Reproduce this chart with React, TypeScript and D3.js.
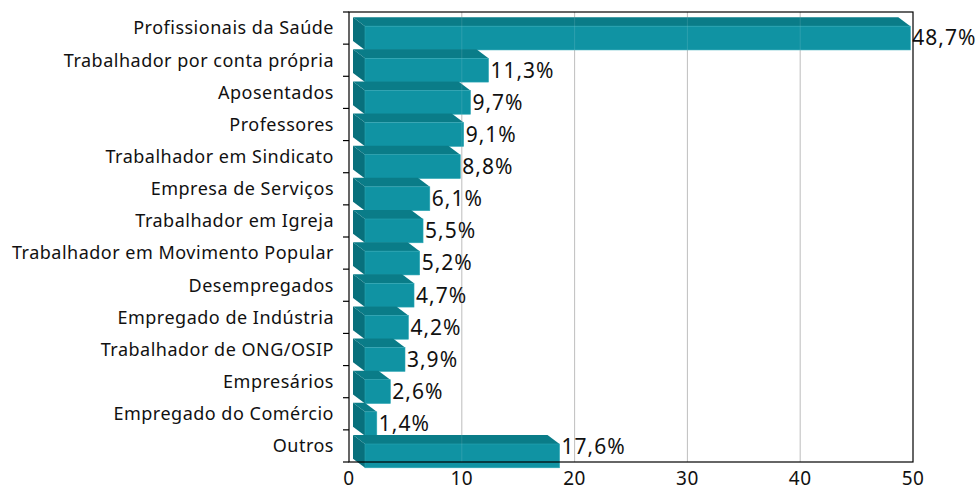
import React, { useRef, useEffect } from 'react';
import * as d3 from 'd3';

const categories = [
  'Profissionais da Saúde',
  'Trabalhador por conta própria',
  'Aposentados',
  'Professores',
  'Trabalhador em Sindicato',
  'Empresa de Serviços',
  'Trabalhador em Igreja',
  'Trabalhador em Movimento Popular',
  'Desempregados',
  'Empregado de Indústria',
  'Trabalhador de ONG/OSIP',
  'Empresários',
  'Empregado do Comércio',
  'Outros',
];
const values = [48.7, 11.3, 9.7, 9.1, 8.8, 6.1, 5.5, 5.2, 4.7, 4.2, 3.9, 2.6, 1.4, 17.6];
const xTicks = [0, 10, 20, 30, 40, 50];

const FRONT = '#1093a3';
const TOP = '#0a7c88';
const SIDE = '#08707c';
const FONT = '"Noto Sans", sans-serif';

const App = () => {
  const svgRef = useRef<SVGSVGElement>(null);

  useEffect(() => {
    const svg = d3.select(svgRef.current);
    svg.selectAll('*').remove();

    const margin = { top: 12, right: 65, bottom: 26, left: 349 };
    const W = 978, H = 488;
    const width = W - margin.left - margin.right;
    const height = H - margin.top - margin.bottom;

    const g = svg.append('g').attr('transform', `translate(${margin.left},${margin.top})`);

    const x = d3.scaleLinear().domain([0, 50]).range([0, width]);
    const y = d3.scaleBand().domain(categories).range([0, height]);
    const bw = y.bandwidth();

    // gridlines
    g.selectAll('line.grid')
      .data(xTicks.slice(1, -1))
      .enter().append('line')
      .attr('x1', d => x(d)).attr('x2', d => x(d))
      .attr('y1', 0).attr('y2', height)
      .attr('stroke', '#b8b8b8').attr('stroke-width', 1);

    const dx = 12, dy = 9;
    const bars = g.selectAll('g.bar')
      .data(categories)
      .enter().append('g')
      .attr('transform', d => `translate(0,${y(d)})`);

    bars.each(function (c, i) {
      const b = d3.select(this);
      const x0 = x(0) + 4;
      const x1 = x(values[i]);
      const t = bw * 0.16, bt = bw * 0.9;
      // side face
      b.append('path')
        .attr('d', `M${x0},${t}L${x0 + dx},${t + dy}L${x0 + dx},${bt + dy}L${x0},${bt}Z`)
        .attr('fill', SIDE);
      // top face
      b.append('path')
        .attr('d', `M${x0},${t}L${x1},${t}L${x1 + dx},${t + dy}L${x0 + dx},${t + dy}Z`)
        .attr('fill', TOP);
      // front face
      b.append('rect')
        .attr('x', x0 + dx).attr('y', t + dy)
        .attr('width', Math.max(0, x1 - x0))
        .attr('height', bt - t)
        .attr('fill', FRONT)
        .attr('stroke', '#2aa5b3').attr('stroke-width', 0.6);
      // value label (kept inside the plot area at the bottom)
      const by = (y(c) as number);
      const ly = Math.min(by + (t + bt) / 2 + dy, height - 15) - by;
      b.append('text')
        .attr('x', x1 + dx + 2)
        .attr('y', ly)
        .attr('dy', '0.35em')
        .attr('font-family', FONT)
        .attr('font-size', 21)
        .attr('letter-spacing', 1)
        .attr('fill', '#111')
        .text(values[i].toFixed(1).replace('.', ',') + '%');
    });

    // faint gridlines over bars
    g.selectAll('line.gridover')
      .data(xTicks.slice(1, -1))
      .enter().append('line')
      .attr('x1', d => x(d)).attr('x2', d => x(d))
      .attr('y1', 0).attr('y2', height)
      .attr('stroke', '#ffffff').attr('stroke-opacity', 0.12);

    // frame
    g.append('rect')
      .attr('x', 0).attr('y', 0).attr('width', width).attr('height', height)
      .attr('fill', 'none').attr('stroke', '#000').attr('stroke-width', 1.2);

    // y axis ticks + labels
    const ticksY = d3.range(categories.length + 1).map(i => i * bw);
    g.selectAll('line.ytick')
      .data(ticksY)
      .enter().append('line')
      .attr('x1', -6).attr('x2', 0)
      .attr('y1', d => d).attr('y2', d => d)
      .attr('stroke', '#000').attr('stroke-width', 1.2);

    g.selectAll('text.ylab')
      .data(categories)
      .enter().append('text')
      .attr('x', -15)
      .attr('y', d => (y(d) as number) + bw / 2)
      .attr('dy', '0.35em')
      .attr('text-anchor', 'end')
      .attr('font-family', FONT)
      .attr('font-size', 18)
      .attr('letter-spacing', 0.5)
      .attr('fill', '#111')
      .text(d => d);

    // x axis labels
    g.selectAll('text.xlab')
      .data(xTicks)
      .enter().append('text')
      .attr('x', d => x(d))
      .attr('y', height + 16)
      .attr('dy', '0.35em')
      .attr('text-anchor', 'middle')
      .attr('font-family', FONT)
      .attr('font-size', 19)
      .attr('letter-spacing', 0.5)
      .attr('fill', '#111')
      .text(d => d);
  }, []);

  return (
    <div style={{ position: 'absolute', left: 0, top: 0 }}>
      <svg ref={svgRef} width={978} height={488} style={{ display: 'block', background: '#fff' }} />
    </div>
  );
};

export default App;
